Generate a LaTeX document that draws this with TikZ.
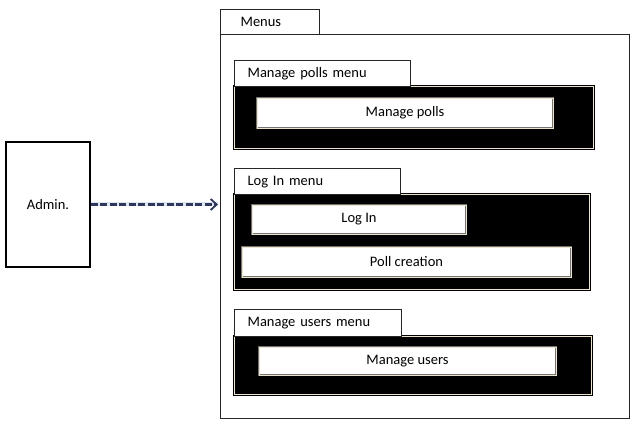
\documentclass[tikz,border=0pt]{standalone}
\usepackage{fontspec}
\setmainfont{Carlito}
\usetikzlibrary{arrows.meta,calc}
\definecolor{cream}{RGB}{236,228,205}
\definecolor{arrowblue}{RGB}{46,56,92}
\definecolor{halo}{RGB}{190,205,230}
\tikzset{
  x=1pt,y=-1pt,
  every node/.style={font=\fontsize{14.5}{17}\selectfont, inner sep=0pt, anchor=north west},
  framebox/.style={draw=black!85, line width=1.2pt, fill=white},
  tabbox/.style={draw=black!85, line width=1.2pt, fill=white, align=left, inner xsep=13pt},
  blackbox/.style={draw=black, fill=black, line width=0.9pt, double=cream, double distance=0.8pt},
  itembox/.style={draw=black!55, fill=white, line width=0.7pt, double=cream, double distance=0.9pt},
  actorbox/.style={draw=black, line width=1.3pt, fill=white},
  dep/.style={draw=arrowblue, line width=2.2pt, dash pattern=on 7pt off 2.5pt, -{Straight Barb[length=6pt,width=11pt,line width=1.8pt]}}
}
\begin{document}
\begin{tikzpicture}
\useasboundingbox (0,0) rectangle (634,430);
% outer frame
\node[framebox, minimum width=409pt, minimum height=384pt] (frame) at (220,34) {};
\node[tabbox, minimum width=99pt, minimum height=25pt, text width=59pt, inner xsep=20pt] (menustab) at (220,9) {Menus};
% manage polls
\node[blackbox, minimum width=359pt, minimum height=62pt] (mpbox) at (234,86) {};
\node[tabbox, minimum width=176pt, minimum height=26pt, text width=150pt] (mptab) at (234,60) {Manage polls menu};
\node[itembox, minimum width=296pt, minimum height=30pt, anchor=center] (mp) at (405,113) {Manage polls};
% log in
\node[blackbox, minimum width=355pt, minimum height=95pt] (libox) at (234,194) {};
\node[tabbox, minimum width=166pt, minimum height=26pt, text width=140pt] (litab) at (234,168) {Log In menu};
\node[itembox, minimum width=214pt, minimum height=29pt, anchor=center] (login) at (359,219.5) {Log In};
\node[itembox, minimum width=329pt, minimum height=30pt, anchor=center] (pollc) at (406.5,262) {Poll creation};
% manage users
\node[blackbox, minimum width=357pt, minimum height=58pt] (mubox) at (234,336) {};
\node[tabbox, minimum width=167pt, minimum height=27pt, text width=141pt] (mutab) at (234,309) {Manage users menu};
\node[itembox, minimum width=297pt, minimum height=28pt, anchor=center] (mu) at (407.5,361) {Manage users};
% actor
\node[actorbox, minimum width=84pt, minimum height=125pt, anchor=center] (admin) at (48,204.5) {Admin.};
% dependency
\draw[halo, line width=4pt, opacity=0.5] (admin.east) -- ($(admin.east -| frame.west)+(-2,0)$);
\draw[dep] (admin.east) -- ($(admin.east -| frame.west)+(-2,0)$);
\end{tikzpicture}
\end{document}
